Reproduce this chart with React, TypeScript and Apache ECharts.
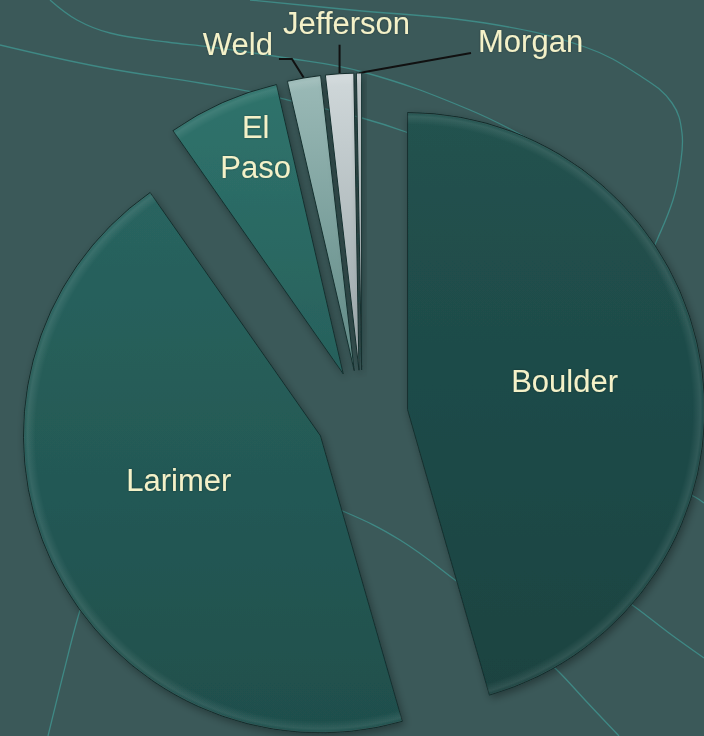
import React, { useEffect, useRef } from "react";
import * as echarts from "echarts";

// ---- data ----
const counties = ["Boulder", "Larimer", "El Paso", "Weld", "Jefferson", "Morgan"];
const shares = [164, 161, 22, 6.5, 5.5, 1];

// ---- layout / style ----
const WIDTH = 704;
const HEIGHT = 736;
const PIE_CENTER = [362, 416];
const PIE_RADIUS = 297;
const EXPLODE = 46;
const BG = "#3b5959";
const LABEL_COLOR = "#f4f1c8";
const FONT = "'Liberation Sans Narrow', 'Arial Narrow', 'Liberation Sans', Arial, sans-serif";
const FONT_SIZE = 31;

const sliceGradients: string[][] = [
  ["#22524f", "#1a4341"],
  ["#29645f", "#1f4f4c"],
  ["#2f736c", "#27605b"],
  ["#9bbab7", "#5f8985"],
  ["#d0d8da", "#98a4a7"],
  ["#c0c8ca", "#8e989b"],
];

const insideShift: Record<string, number[]> = {
  Boulder: [7, -7],
  Larimer: [-5, -21],
  "El Paso": [-26, -88],
};

const bgCurves: number[][][] = [
  [[50, 0], [77, 20], [110, 33], [167, 42], [210, 47], [280, 57], [363, 72], [470, 110], [545, 148]],
  [[250, 0], [352, 10], [485, 23], [585, 47], [642, 77], [672, 103], [682, 133], [680, 167], [673, 200], [657, 240], [630, 300]],
  [[0, 45], [100, 67], [200, 83], [253, 92], [300, 103], [362, 118], [406, 132], [440, 146]],
  [[300, 497], [345, 512], [400, 540], [455, 580], [485, 605]],
  [[530, 645], [559, 672], [585, 700], [619, 736]],
  [[610, 590], [635, 607], [669, 633], [704, 658]],
  [[660, 480], [695, 497], [704, 503]],
  [[90, 580], [78, 617], [63, 675], [48, 736]],
];

function linear(stops: string[]) {
  return {
    type: "linear",
    x: 0,
    y: 0,
    x2: 0,
    y2: 1,
    colorStops: [
      { offset: 0, color: stops[0] },
      { offset: 1, color: stops[1] },
    ],
  };
}

function rim(cx: number, cy: number) {
  const r = PIE_RADIUS;
  return {
    type: "radial",
    x: cx,
    y: cy,
    r,
    global: true,
    colorStops: [
      { offset: 0, color: "rgba(255,255,255,0)" },
      { offset: (r - 12) / r, color: "rgba(255,255,255,0)" },
      { offset: (r - 4) / r, color: "rgba(255,255,255,0.09)" },
      { offset: (r - 1.5) / r, color: "rgba(255,255,255,0.03)" },
      { offset: 1, color: "rgba(0,0,0,0.25)" },
    ],
  };
}

export default function App() {
  const ref = useRef<HTMLDivElement>(null);

  useEffect(() => {
    document.body.style.margin = "0";
    if (!ref.current) return;
    const chart = echarts.init(ref.current, undefined, { renderer: "svg" });

    const total = shares.reduce((a, b) => a + b, 0);
    let cum = 0;
    const series: any[] = [];
    shares.forEach((v, i) => {
      const mid = (2 * Math.PI * (cum + v / 2)) / total;
      cum += v;
      const cx = PIE_CENTER[0] + EXPLODE * Math.sin(mid);
      const cy = PIE_CENTER[1] - EXPLODE * Math.cos(mid);
      const name = counties[i];
      const inside = !!insideShift[name];
      const common = {
        type: "pie",
        center: [cx, cy],
        radius: [0, PIE_RADIUS],
        startAngle: 90,
        clockwise: true,
        avoidLabelOverlap: false,
        silent: true,
        emphasis: { disabled: true },
      };
      series.push({
        ...common,
        name,
        z: 2,
        data: counties.map((n, j) => ({
          name: n,
          value: shares[j],
          itemStyle:
            j === i
              ? {
                  color: linear(sliceGradients[j]),
                  borderColor: "#15302f",
                  borderWidth: 1,
                  shadowBlur: 8,
                  shadowColor: "rgba(0,0,0,0.35)",
                  shadowOffsetX: 2,
                  shadowOffsetY: 3,
                }
              : { color: "rgba(0,0,0,0)", borderWidth: 0, shadowBlur: 0 },
          label: {
            show: j === i,
            position: inside ? "inside" : "outside",
            color: LABEL_COLOR,
            fontFamily: FONT,
            fontSize: FONT_SIZE,
            lineHeight: 40,
            textShadowColor: "rgba(0,0,0,0.35)",
            textShadowBlur: 2,
            formatter: (p: any) => (p.name === "El Paso" ? "El\nPaso" : p.name),
          },
          labelLine: {
            show: j === i && !inside,
            length: 10,
            length2: 10,
            lineStyle: { color: "#111111", width: 2 },
          },
        })),
        labelLayout: (p: any) => {
          if (p.dataIndex !== i) return {};
          if (inside) return { dx: insideShift[name][0], dy: insideShift[name][1] };
          const pts = p.labelLinePoints;
          if (!pts || !pts[0]) return {};
          const [x0, y0] = pts[0];
          if (name === "Weld") {
            const p1 = [x0 - 12, y0 - 19];
            const p2 = [p1[0] - 13, p1[1]];
            return {
              x: p2[0] - 6,
              y: p2[1] - 14,
              align: "right",
              verticalAlign: "middle",
              labelLinePoints: [[x0, y0], p1, p2],
            };
          }
          if (name === "Jefferson") {
            const p1 = [x0, y0 - 29];
            return {
              x: x0 + 7,
              y: p1[1] - 21,
              align: "center",
              verticalAlign: "middle",
              labelLinePoints: [[x0, y0], p1, p1],
            };
          }
          const p1 = [x0 + 112, y0 - 20];
          return {
            x: p1[0] + 7,
            y: p1[1] - 12,
            align: "left",
            verticalAlign: "middle",
            labelLinePoints: [[x0, y0], p1, p1],
          };
        },
      });
      // bevel rim overlay
      series.push({
        ...common,
        name: name + " rim",
        z: 3,
        label: { show: false },
        labelLine: { show: false },
        data: counties.map((n, j) => ({
          name: n,
          value: shares[j],
          itemStyle:
            j === i
              ? { color: rim(cx, cy), borderWidth: 0 }
              : { color: "rgba(0,0,0,0)", borderWidth: 0 },
        })),
      });
    });

    const option: any = {
      animation: false,
      backgroundColor: BG,
      tooltip: { show: false },
      graphic: bgCurves.map((pts) => ({
        type: "polyline",
        z: 0,
        silent: true,
        shape: { points: pts, smooth: 0.4 },
        style: { stroke: "#3f8985", lineWidth: 1.3, fill: null },
      })),
      series,
    };
    chart.setOption(option);
    return () => chart.dispose();
  }, []);

  return (
    <div
      ref={ref}
      style={{ position: "absolute", left: 0, top: 0, width: WIDTH, height: HEIGHT }}
    />
  );
}
